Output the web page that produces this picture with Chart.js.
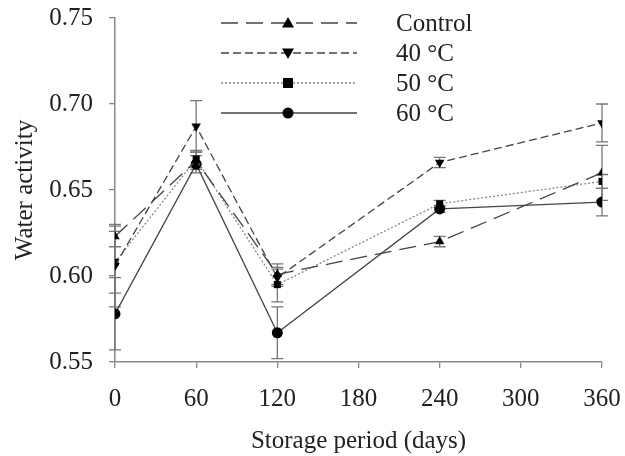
<!DOCTYPE html>
<html>
<head>
<meta charset="utf-8">
<script src="https://cdn.jsdelivr.net/npm/chart.js@4/dist/chart.umd.min.js"></script>
<style>
    html, body { margin: 0; padding: 0; background: #fff; }
    #chart-box { width: 625px; height: 456px; }
</style>
</head>
<body>
<div id="chart-box"><canvas id="water-chart"></canvas></div>
<script>
const DAYS = [0, 60, 120, 240, 360];
const X_TICKS = [0, 60, 120, 180, 240, 300, 360];
const Y_TICKS = [0.55, 0.60, 0.65, 0.70, 0.75];

const SERIES_NAMES = ['Control', '40 °C', '50 °C', '60 °C'];
const CONTROL = [0.623, 0.667, 0.601, 0.620, 0.660];
const CONTROL_ERR = [0.006, 0.005, 0.006, 0.003, 0.016];
const T40 = [0.606, 0.687, 0.599, 0.666, 0.689];
const T40_ERR = [0.024, 0.015, 0.005, 0.003, 0.011];
const T50 = [0.608, 0.668, 0.595, 0.642, 0.655];
const T50_ERR = [0.018, 0.005, 0.010, 0.002, 0.004];
const T60 = [0.578, 0.665, 0.567, 0.639, 0.643];
const T60_ERR = [0.021, 0.005, 0.015, 0.002, 0.008];

const FONT = 'Liberation Serif';
const FONT_SIZE = 25;

let styles = [
    { dash: [17, 8], color: '#444', point: 'triangle', rotation: 0 },
    { dash: [8, 4], color: '#444', point: 'triangle', rotation: 180 },
    { dash: [2, 2], color: '#888', point: 'rect', rotation: 0 },
    { dash: [], color: '#444', point: 'circle', rotation: 0 }
];
let values = [CONTROL, T40, T50, T60];
let errors = [CONTROL_ERR, T40_ERR, T50_ERR, T60_ERR];

function makeDataset(i) {
    let pts = [];
    for (let d = 0; d < DAYS.length; d++) {
        pts.push({ x: DAYS[d], y: values[i][d] });
    }
    return {
        label: SERIES_NAMES[i],
        data: pts,
        showLine: true,
        borderColor: styles[i].color,
        borderWidth: 1.3,
        borderDash: styles[i].dash,
        pointStyle: styles[i].point,
        pointRotation: styles[i].rotation,
        pointRadius: styles[i].point == 'rect' ? 5 : 5.5,
        pointBackgroundColor: '#000',
        pointBorderColor: '#000',
        pointBorderWidth: 0
    };
}

// vertical error bars, drawn through the chart scales
const errorBars = {
    id: 'errorBars',
    beforeDatasetsDraw(chart) {
        let ctx = chart.ctx;
        let xs = chart.scales.x;
        let ys = chart.scales.y;
        ctx.save();
        ctx.strokeStyle = '#777';
        ctx.lineWidth = 1.3;
        for (let i = 0; i < values.length; i++) {
            for (let d = 0; d < DAYS.length; d++) {
                let px = xs.getPixelForValue(DAYS[d]);
                let top = ys.getPixelForValue(values[i][d] + errors[i][d]);
                let bot = ys.getPixelForValue(values[i][d] - errors[i][d]);
                ctx.beginPath();
                ctx.moveTo(px, top); ctx.lineTo(px, bot);
                ctx.moveTo(px - 6, top); ctx.lineTo(px + 6, top);
                ctx.moveTo(px - 6, bot); ctx.lineTo(px + 6, bot);
                ctx.stroke();
            }
        }
        ctx.restore();
    }
};

function drawMarker(ctx, kind, rot, x, y) {
    ctx.beginPath();
    if (kind == 'circle') {
        ctx.arc(x, y, 5.5, 0, Math.PI * 2);
    } else if (kind == 'rect') {
        ctx.rect(x - 5, y - 5, 10, 10);
    } else {
        let s = rot == 180 ? -1 : 1;
        ctx.moveTo(x, y - 6 * s);
        ctx.lineTo(x + 6, y + 4.5 * s);
        ctx.lineTo(x - 6, y + 4.5 * s);
        ctx.closePath();
    }
    ctx.fill();
}

// legend inside the plot, top centre
const innerLegend = {
    id: 'innerLegend',
    afterDraw(chart) {
        let ctx = chart.ctx;
        let rows = [23, 53, 83, 113];
        ctx.save();
        for (let i = 0; i < SERIES_NAMES.length; i++) {
            ctx.strokeStyle = styles[i].color;
            ctx.lineWidth = 1.3;
            ctx.setLineDash(styles[i].dash);
            ctx.beginPath();
            ctx.moveTo(221, rows[i]);
            ctx.lineTo(357, rows[i]);
            ctx.stroke();
            ctx.setLineDash([]);
            ctx.fillStyle = '#000';
            drawMarker(ctx, styles[i].point, styles[i].rotation, 288, rows[i]);
            ctx.fillStyle = '#222';
            ctx.font = FONT_SIZE + 'px "' + FONT + '"';
            ctx.textBaseline = 'middle';
            ctx.fillText(SERIES_NAMES[i], 396, rows[i] + 1);
        }
        ctx.restore();
    }
};

let datasets = [];
for (let i = 0; i < SERIES_NAMES.length; i++) {
    datasets.push(makeDataset(i));
}

let axisGrid = { drawOnChartArea: false, drawTicks: true, tickLength: 6, color: '#888', lineWidth: 1.3 };
let axisBorder = { color: '#888', width: 1.5 };
let axisFont = { family: FONT, size: FONT_SIZE };

new Chart(document.getElementById('water-chart'), {
    type: 'scatter',
    data: { datasets: datasets },
    options: {
        responsive: true,
        maintainAspectRatio: false,
        animation: false,
        layout: { padding: { left: 0, top: 18, right: 23, bottom: 0 } },
        plugins: {
            legend: { display: false },
            tooltip: { enabled: false }
        },
        scales: {
            x: {
                type: 'linear',
                min: 0,
                max: 360,
                afterBuildTicks: (scale) => { scale.ticks = X_TICKS.map(v => ({ value: v })); },
                afterFit: (scale) => {
                    scale.height = 94;
                    scale.paddingLeft = 0;
                    scale.paddingRight = 0;
                },
                ticks: { font: axisFont, color: '#222', padding: 16, maxRotation: 0 },
                grid: axisGrid,
                border: axisBorder,
                title: { display: true, text: 'Storage period (days)', font: axisFont, color: '#222', padding: { top: 0, bottom: 0 } }
            },
            y: {
                min: 0.55,
                max: 0.75,
                afterBuildTicks: (scale) => { scale.ticks = Y_TICKS.map(v => ({ value: v })); },
                afterFit: (scale) => {
                    scale.width = 115;
                    scale.paddingTop = 0;
                    scale.paddingBottom = 0;
                },
                ticks: { font: axisFont, color: '#222', padding: 16, callback: (v) => v.toFixed(2) },
                grid: axisGrid,
                border: axisBorder,
                title: { display: true, text: 'Water activity', font: axisFont, color: '#222', padding: { top: 10, bottom: 0 } }
            }
        }
    },
    plugins: [errorBars, innerLegend]
});
</script>
</body>
</html>
